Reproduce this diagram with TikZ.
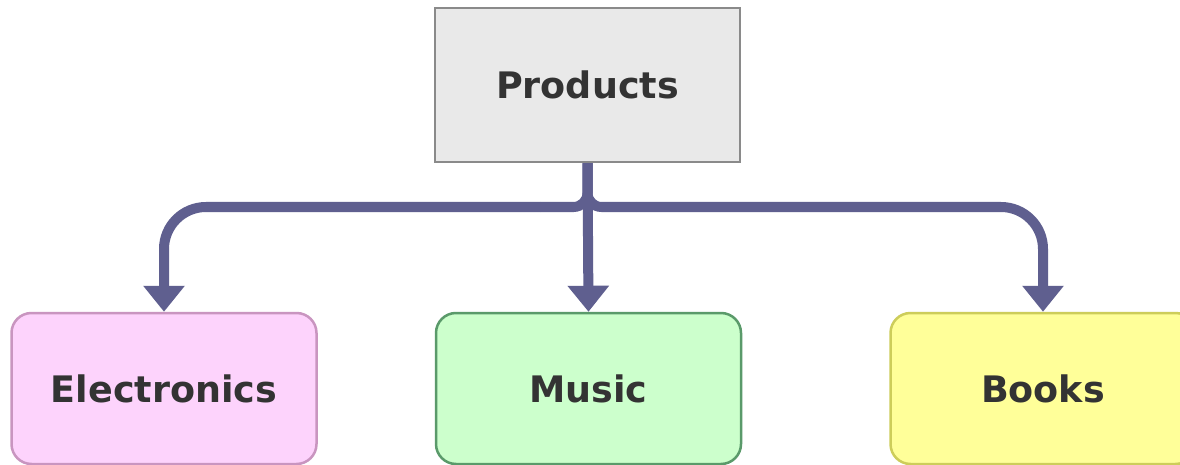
\documentclass[tikz,border=0pt]{standalone}
\usepackage{fontspec}
\setmainfont{DejaVu Sans}
\usetikzlibrary{arrows.meta}
\definecolor{conncol}{HTML}{5F5F8F}
\definecolor{txtcol}{HTML}{333333}
\definecolor{prodline}{HTML}{8A8A8A}
\definecolor{prodfill}{HTML}{E9E9E9}
\definecolor{elecline}{HTML}{C995C0}
\definecolor{elecfill}{HTML}{FDD3FC}
\definecolor{musicline}{HTML}{5A9A6A}
\definecolor{musicfill}{HTML}{CCFFCC}
\definecolor{bookline}{HTML}{CDCD5A}
\definecolor{bookfill}{HTML}{FFFF99}
\tikzset{
  box/.style={minimum width=305pt, minimum height=151pt, inner sep=0pt, line width=2.5pt,
     font=\fontsize{36.5}{40}\selectfont\bfseries, text=txtcol},
  conn/.style={draw=conncol, line width=10pt},
  tip/.style={-{Triangle[width=40pt,length=26pt]}}
}
\begin{document}
\begin{tikzpicture}[x=1pt,y=-1pt]
\clip (0,0) rectangle (1180,465);
\fill[white] (0,0) rectangle (1180,465);
\node[box, draw=prodline, fill=prodfill, minimum height=154pt] (prod) at (587.5,85) {Products};
\node[box, rounded corners=20pt, draw=elecline, fill=elecfill] (elec) at (164,388.5) {Electronics};
\node[box, rounded corners=20pt, draw=musicline, fill=musicfill] (music) at (588.5,388.5) {Music};
\node[box, rounded corners=20pt, draw=bookline, fill=bookfill] (books) at (1043,388.5) {Books};
\coordinate (jl) at (540,207);
\coordinate (jr) at (636,207);
\draw[conn, rounded corners=14pt] (prod.south) |- (jl);
\draw[conn, rounded corners=14pt] (prod.south) |- (jr);
\draw[conn, tip, rounded corners=42pt] (jl) -| (elec.north);
\draw[conn, tip, rounded corners=42pt] (jr) -| (books.north);
\draw[conn, tip] (prod.south) -- (music.north);
\end{tikzpicture}
\end{document}
